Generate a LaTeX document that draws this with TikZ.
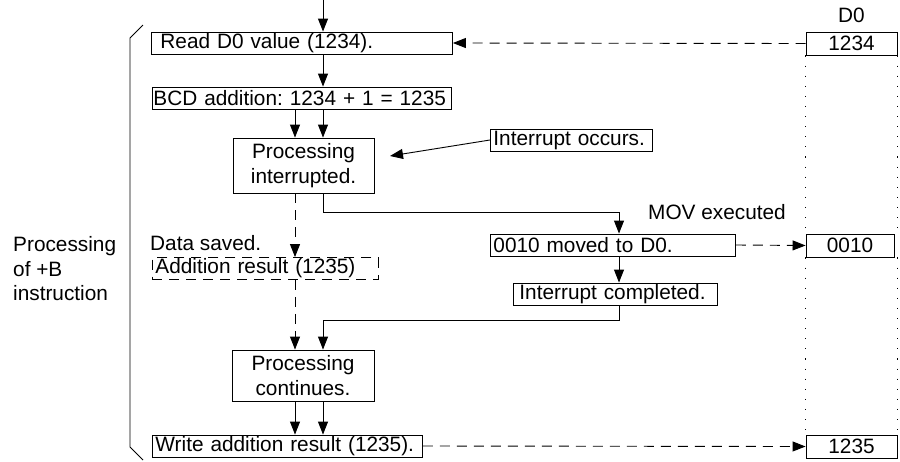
\documentclass[tikz,border=0pt]{standalone}
\usepackage{fontspec}
\setmainfont{Liberation Sans}
\usepackage{tikz}
\usetikzlibrary{positioning}
\usetikzlibrary{arrows.meta}
\frenchspacing
\tikzset{
flow_box/.style={rectangle, draw, line width=0.9pt, anchor=west, inner ysep=0pt, minimum height=22pt, align=left},
step_box/.style={rectangle, draw, line width=0.9pt, align=center, inner sep=0pt},
mem_box/.style={rectangle, draw, line width=0.9pt, minimum width=91pt, minimum height=23pt, inner sep=0pt},
note/.style={rectangle, inner sep=0pt, align=left},
link/.style={line width=0.9pt, ->},
data_link/.style={line width=0.9pt, ->, dash pattern=on 10pt off 7pt},
col_line/.style={line width=1.1pt, dash pattern=on 1.1pt off 9pt}
}
\begin{document}
\begin{tikzpicture}[x=1pt, y=-1pt, >={Triangle[length=13pt,width=10pt]}, font=\fontsize{20.8}{24.5}\selectfont]
    \useasboundingbox (0,0) rectangle (900,461);
    \coordinate (entry) at (323,0);
    \coordinate (col_a) at (295,0);
    \coordinate (col_b) at (323,0);
    \coordinate (col_c) at (619,0);
    \coordinate (int_tip) at (390,156);
    \node[flow_box, inner xsep=9pt, text width=283pt] (read_d0) at (151,43) {Read D0 value (1234).};
    \node[flow_box, inner xsep=1pt, text width=297pt] (bcd_add) at (152,98) {BCD addition: 1234 + 1 = 1235};
    \node[step_box, minimum width=141pt, minimum height=55pt] (proc_int) at (303.5,165.5) {Processing\\interrupted.};
    \node[flow_box, inner xsep=3pt, text width=156pt] (int_occ) at (490,140) {Interrupt occurs.};
    \node[flow_box, inner xsep=3pt, text width=239pt] (mov_d0) at (490,245) {0010 moved to D0.};
    \node[note, anchor=west] (mov_text) at (648,212) {MOV executed};
    \node[flow_box, inner xsep=6pt, text width=192pt] (int_done) at (513,294) {Interrupt completed.};
    \node[note, anchor=west] (saved_text) at (150,243) {Data saved.};
    \node[flow_box, dash pattern=on 10pt off 7pt, inner xsep=3pt, text width=220pt] (saved) at (152,268.5) {Addition result (1235)};
    \node[step_box, minimum width=142pt, minimum height=51pt] (proc_cont) at (303,375.5) {Processing\\continues.};
    \node[flow_box, inner xsep=3pt, text width=264pt] (write_res) at (152,446) {Write addition result (1235).};
    \node[note, anchor=west] (instr_text) at (13,269) {Processing\\of +B\\instruction};
    \node[mem_box] (mem_1234) at (851.5,43.5) {1234};
    \node[mem_box, minimum width=88pt] (mem_0010) at (850,245.5) {0010};
    \node[mem_box] (mem_1235) at (851.5,446.5) {1235};
    \node[note] (d0_text) [above=9pt of mem_1234] {D0};

    \draw[link] (entry) -- (read_d0.north -| col_b);
    \draw[link] (read_d0.south -| col_b) -- (bcd_add.north -| col_b);
    \draw[link] (bcd_add.south -| col_a) -- (proc_int.north -| col_a);
    \draw[link] (bcd_add.south -| col_b) -- (proc_int.north -| col_b);
    \draw[link] (int_occ.west) -- (int_tip);
    \draw[link] (proc_int.south -| col_b) -- ++(0,19) -| (mov_d0.north -| col_c);
    \draw[link] (mov_d0.south -| col_c) -- (int_done.north -| col_c);
    \draw[link] (int_done.south -| col_c) -- ++(0,15) -| (proc_cont.north -| col_b);
    \draw[data_link] (proc_int.south -| col_a) -- (saved.north -| col_a);
    \draw[data_link] (saved.south -| col_a) -- (proc_cont.north -| col_a);
    \draw[link] (proc_cont.south -| col_a) -- (write_res.north -| col_a);
    \draw[link] (proc_cont.south -| col_b) -- (write_res.north -| col_b);
    \draw[data_link] (mem_1234.west) -- (read_d0.east);
    \draw[data_link] (mov_d0.east) -- (mem_0010.west);
    \draw[data_link] (write_res.east) -- (mem_1235.west);

    \draw[col_line] (mem_1234.south west) -- (mem_0010.north west);
    \draw[col_line] (mem_1234.south east) -- (mem_0010.north -| mem_1234.east);
    \draw[col_line] (mem_0010.south west) -- (mem_1235.north west);
    \draw[col_line] (mem_0010.south -| mem_1234.east) -- (mem_1235.north east);

    \draw[line width=0.9pt] (143,25) -- (130,38) -- (130,447) -- (143,460);
\end{tikzpicture}
\end{document}
